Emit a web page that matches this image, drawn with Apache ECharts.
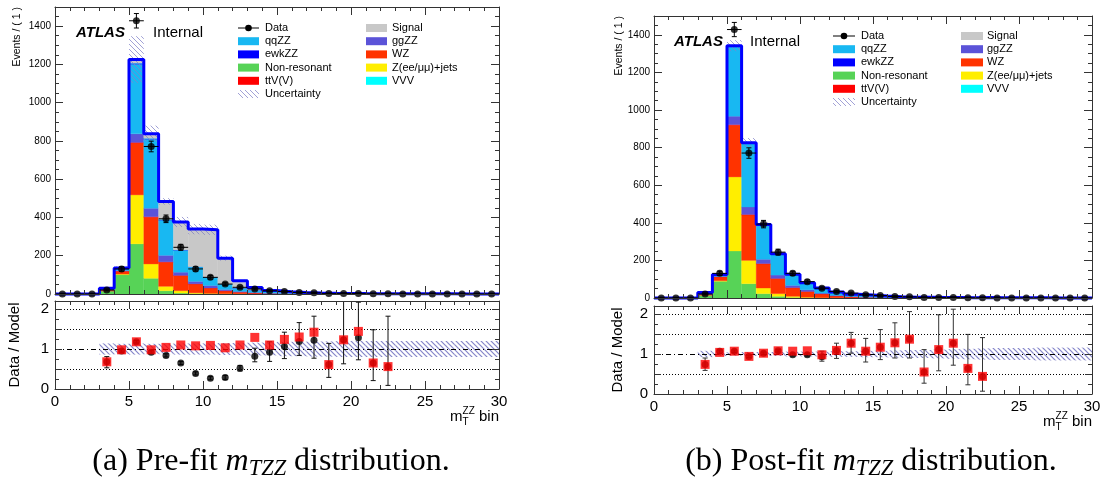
<!DOCTYPE html>
<html><head><meta charset="utf-8">
<script src="https://cdn.jsdelivr.net/npm/echarts@6/dist/echarts.min.js"></script>
<style>html,body{margin:0;padding:0;background:#fff}#c{width:1104px;height:485px}</style>
</head><body><div id="c"></div><script>
// ---------------- DATA ----------------
const binLow    = [0,1,2,3,4,5,6,7,8,9,10,11,12,13,14,15,16,17,18,19,20,21,22,23,24,25,26,27,28,29];
const binCenter = [0.5,1.5,2.5,3.5,4.5,5.5,6.5,7.5,8.5,9.5,10.5,11.5,12.5,13.5,14.5,15.5,16.5,17.5,18.5,19.5,20.5,21.5,22.5,23.5,24.5,25.5,26.5,27.5,28.5,29.5];
const compNames  = ['Non-resonant','Z(ee/\u03bc\u03bc)+jets','WZ','ttV(V)','ggZZ','qqZZ','ewkZZ','VVV','Signal'];
const compColors = ['#57d357','#ffee00','#ff3300','#ff0000','#5b53d8','#18b8f2','#0000ff','#00ffff','#c8c8c8'];

// Data (same in both panels)
const dataVals = [0,0,0,21,131,1428,771,393,244,131,87,52,35,26,17,13,8,6,2,3,3,1,1,0,0,0,0,0,0,0];
const dataErr  = [0,0,0,4.6,11.4,37.8,27.8,19.8,15.6,11.4,9.3,7.2,5.9,5.1,4.1,3.6,2.8,2.4,1.4,1.7,1.7,1,1,0,0,0,0,0,0,0];

// Pre-fit components
const nonresPre = [0,0,0,15,101,262,82,17,5,2,1,0.5,0,0,0,0,0,0,0,0,0,0,0,0,0,0,0,0,0,0];
const zjetsPre  = [0,0,0,0,3,256,75,23,12,4,2,1,0.5,0,0,0,0,0,0,0,0,0,0,0,0,0,0,0,0,0];
const wzPre     = [0,0,0,6,15,271,244,126,79,46,28,15,9,5,3,2,1,0.6,0.4,0.3,0.2,0.2,0.1,0.1,0,0,0,0,0,0];
const ttvPre    = [0,0,0,0,1,3,3,2,1,1,0.5,0.3,0.2,0.1,0,0,0,0,0,0,0,0,0,0,0,0,0,0,0,0];
const ggzzPre   = [0,0,0,1,3,45,44,34,17,13,13,7,4,3,2,1,0.6,0.4,0.3,0.2,0.1,0.1,0.1,0,0,0,0,0,0,0];
const qqzzPre   = [0.3,0.3,0.5,8,10,364,361,184,114,75,43,28,17,12,9,7,5,4,3,2.2,1.8,1.4,1.6,1.4,1.1,0.9,0.7,0.6,0.5,0.4];
const ewkPre    = [0,0,0,0,1,5,4,3,2,1,1,0.5,0.5,0.3,0.2,0.2,0.1,0.1,0.1,0.1,0,0,0,0,0,0,0,0,0,0];
const vvvPre    = [0,0,0,0,0.5,1,1,1,0.5,0.3,0.2,0.1,0,0,0,0,0,0,0,0,0,0,0,0,0,0,0,0,0,0];
const signalPre = [0,0,0,0,1,18,24,94,146,197,247,135,38,13,4,2,1,0.5,0.3,0.2,0.1,0,0,0,0,0,0,0,0,0];
const uncRelPre = [0,0,0,0.1,0.06,0.1,0.05,0.035,0.07,0.08,0.08,0.07,0.07,0.08,0.08,0.1,0.1,0.12,0.12,0.12,0.14,0.14,0.14,0.14,0.15,0.15,0.15,0.15,0.15,0.15];

// Post-fit components
const nonresPost = [0,0,0,14,89,250,76,23,9,3,1,0.5,0,0,0,0,0,0,0,0,0,0,0,0,0,0,0,0,0,0];
const zjetsPost  = [0,0,0,0,3,394,124,30,14,6,3,1,0.5,0,0,0,0,0,0,0,0,0,0,0,0,0,0,0,0,0];
const wzPost     = [0,0,0,6,20,275,242,128,80,45,30,20,10,6,4,2.5,1.5,1,0.5,0.3,0.2,0.2,0.1,0.1,0,0,0,0,0,0];
const ttvPost    = [0,0,0,0,1,3,2,2,1,1,0.5,0.3,0.2,0.1,0,0,0,0,0,0,0,0,0,0,0,0,0,0,0,0];
const ggzzPost   = [0,0,0,1,2,45,40,23,18,12,9,4,3,2,1.5,1,0.5,0.3,0.2,0.1,0,0,0,0,0,0,0,0,0,0];
const qqzzPost   = [0.3,0.3,0.5,8,9,369,338,181,111,58,37,27,18,11.5,10,7.3,4.4,3,2.9,2.2,2.1,1.4,2.1,1.5,1.2,1,0.8,0.6,0.5,0.4];
const ewkPost    = [0,0,0,0,1,5,3,3,2,1,1,0.5,0.3,0.3,0.2,0.1,0,0,0,0,0,0,0,0,0,0,0,0,0,0];
const vvvPost    = [0,0,0,0,0.5,1,1,0.5,0.3,0.2,0.1,0,0,0,0,0,0,0,0,0,0,0,0,0,0,0,0,0,0,0];
const signalPost = [0,0,0,0,0,0,0,0,0,0,0,0,0,0,0,0,0,0,0,0,0,0,0,0,0,0,0,0,0,0];
const uncRelPost = [0,0,0,0.05,0.04,0.022,0.03,0.03,0.03,0.04,0.04,0.05,0.05,0.05,0.06,0.06,0.07,0.08,0.08,0.09,0.1,0.1,0.11,0.12,0.12,0.12,0.13,0.13,0.13,0.13];

// Ratio panel values (null = not drawn)
const n = null;
const ratioRedPre   = [n,n,n,0.68,0.98,1.18,0.98,1.04,1.10,1.08,1.09,1.03,1.10,1.29,1.10,1.24,1.30,1.42,0.61,1.23,1.44,0.65,0.56,n,n,n,n,n,n,n];
const ratioBlackPre = [n,n,n,0.68,0.95,1.18,0.92,0.84,0.65,0.39,0.27,0.29,0.52,0.82,0.92,1.06,1.19,1.22,0.61,1.23,1.28,0.65,0.56,n,n,n,n,n,n,n];
const ratioLoPre    = [n,n,n,0.53,0.92,1.15,0.88,0.80,0.61,0.35,0.23,0.24,0.45,0.68,0.69,0.76,0.84,0.77,0.29,0.63,0.73,0.21,0.09,n,n,n,n,n,n,n];
const ratioHiPre    = [n,n,n,0.81,0.99,1.21,0.96,0.88,0.69,0.43,0.31,0.34,0.59,1.02,1.18,1.42,1.66,1.82,1.14,2.40,2.17,1.48,1.82,n,n,n,n,n,n,n];
const ratioBandPre  = [0,0,0,0.14,0.13,0.14,0.13,0.13,0.14,0.14,0.14,0.15,0.15,0.16,0.16,0.18,0.18,0.19,0.19,0.2,0.2,0.2,0.2,0.2,0.2,0.2,0.2,0.2,0.2,0.2];

const ratioRedPost   = [n,n,n,0.74,1.04,1.07,0.94,1.02,1.08,1.07,1.08,0.98,1.09,1.27,1.07,1.17,1.28,1.37,0.55,1.11,1.27,0.64,0.44,n,n,n,n,n,n,n];
const ratioBlackPost = [n,n,n,0.74,1.07,1.07,0.94,1.02,1.08,0.98,0.98,0.93,1.09,1.27,1.07,1.17,1.28,1.37,0.55,1.11,1.27,0.64,0.44,n,n,n,n,n,n,n];
const ratioLoPost    = [n,n,n,0.59,1.01,1.04,0.91,0.99,1.05,0.95,0.95,0.82,0.89,1.02,0.80,0.86,0.90,0.90,0.27,0.58,0.72,0.23,0.07,n,n,n,n,n,n,n];
const ratioHiPost    = [n,n,n,0.90,1.10,1.10,0.97,1.05,1.11,1.02,1.02,1.07,1.27,1.54,1.39,1.61,1.78,2.06,1.11,1.98,2.12,1.49,1.41,n,n,n,n,n,n,n];
const ratioBandPost  = [0,0,0,0.08,0.05,0.04,0.05,0.05,0.05,0.06,0.06,0.06,0.07,0.07,0.08,0.08,0.09,0.1,0.1,0.11,0.12,0.13,0.14,0.15,0.15,0.15,0.16,0.16,0.16,0.16];

const yTickValuesMain = 200;  // main y major step
const legendLeft  = ['Data','qqZZ','ewkZZ','Non-resonant','ttV(V)','Uncertainty'];
const legendRight = ['Signal','ggZZ','WZ','Z(ee/\u03bc\u03bc)+jets','VVV'];

// ---------------- HELPERS ----------------
function makeHatch(color, size, lw) {
  const c = document.createElement('canvas'); c.width = size; c.height = size;
  const g = c.getContext('2d'); g.strokeStyle = color; g.lineWidth = lw;
  g.beginPath();
  g.moveTo(0,0); g.lineTo(size,size);
  g.moveTo(-1,size-1); g.lineTo(1,size+1);
  g.moveTo(size-1,-1); g.lineTo(size+1,1);
  g.stroke(); return c;
}
const hatchFill = {image: makeHatch('rgba(130,130,200,0.75)', 5, 1), repeat: 'repeat'};
const hatchFillRatio = {image: makeHatch('rgba(120,120,195,0.9)', 5, 1.2), repeat: 'repeat'};

function rectRender(fill, isHatch) {
  return function (params, api) {
    const p0 = api.coord([api.value(0), api.value(3)]);
    const p1 = api.coord([api.value(1), api.value(2)]);
    const cs = params.coordSys;
    const shape = echarts.graphic.clipRectByRect(
      {x: p0[0], y: p0[1], width: p1[0]-p0[0], height: p1[1]-p0[1]},
      {x: cs.x, y: cs.y, width: cs.width, height: cs.height});
    if (!shape) return null;
    return {type: 'rect', shape: shape, style: {fill: fill, stroke: isHatch ? null : fill, lineWidth: 0.3}};
  };
}
function errRender(withX, color) {
  return function (params, api) {
    const xc = api.value(0), lo = api.value(1), hi = api.value(2), v = api.value(3);
    const pLo = api.coord([xc, lo]), pHi = api.coord([xc, hi]);
    const ch = [];
    const st = {stroke: color, lineWidth: 1};
    ch.push({type: 'line', shape: {x1: pLo[0], y1: pLo[1], x2: pHi[0], y2: pHi[1]}, style: st});
    ch.push({type: 'line', shape: {x1: pLo[0]-2.5, y1: pLo[1], x2: pLo[0]+2.5, y2: pLo[1]}, style: st});
    ch.push({type: 'line', shape: {x1: pHi[0]-2.5, y1: pHi[1], x2: pHi[0]+2.5, y2: pHi[1]}, style: st});
    if (withX) {
      const a = api.coord([xc-0.5, v]), b = api.coord([xc+0.5, v]);
      ch.push({type: 'line', shape: {x1: a[0], y1: a[1], x2: b[0], y2: b[1]}, style: st});
    }
    return {type: 'group', children: ch};
  };
}

const axCol = '#333';
function xAx(gridIndex, pos, labels) {
  return {type: 'value', gridIndex, position: pos, min: 0, max: 30, interval: 5, z: 10,
    axisLine: {show: true, onZero: false, lineStyle: {color: axCol, width: 1}},
    axisTick: {show: true, inside: true, length: 8, lineStyle: {color: axCol}},
    minorTick: {show: true, splitNumber: 5, length: 4, lineStyle: {color: axCol}},
    splitLine: {show: false},
    axisLabel: {show: labels, fontSize: 15, fontFamily: 'Liberation Sans', color: '#000', margin: 5}};
}
function yMain(gridIndex, pos) {
  return {type: 'value', gridIndex, position: pos, min: 0, max: 1500, interval: yTickValuesMain, z: 10,
    axisLine: {show: true, onZero: false, lineStyle: {color: axCol, width: 1}},
    axisTick: {show: true, inside: true, length: 8, lineStyle: {color: axCol}},
    minorTick: {show: true, splitNumber: 4, length: 4, lineStyle: {color: axCol}},
    splitLine: {show: false},
    axisLabel: {show: pos === 'left', fontSize: 10, fontFamily: 'Liberation Sans', color: '#000', margin: 4,
      formatter: v => (v > 1400 ? '' : String(v))}};
}
function yRatio(gridIndex, pos) {
  return {type: 'value', gridIndex, position: pos, min: 0, max: 2.2, interval: 0.5, z: 10,
    axisLine: {show: true, onZero: false, lineStyle: {color: axCol, width: 1}},
    axisTick: {show: true, inside: true, length: 7, lineStyle: {color: axCol}},
    minorTick: {show: true, splitNumber: 2, length: 4, lineStyle: {color: axCol}},
    splitLine: {show: false},
    axisLabel: {show: pos === 'left', fontSize: 15, fontFamily: 'Liberation Sans', color: '#000', margin: 6,
      formatter: v => (v === 0 || v === 1 || v === 2 ? String(v) : '')}};
}

function buildPanel(base, comps, uncRel, rRed, rBlack, rLo, rHi, rBand, errColor) {
  const series = [];
  const mx = base, my = base, rx = base + 2, ry = base + 2;
  const cum = binLow.map(() => 0);
  comps.forEach((arr, ci) => {
    const d = [];
    arr.forEach((v, i) => { if (v > 0) { d.push([binLow[i], binLow[i]+1, cum[i], cum[i]+v]); cum[i] += v; } });
    series.push({name: compNames[ci], type: 'custom', coordinateSystem: 'cartesian2d', xAxisIndex: mx, yAxisIndex: my,
      z: 2, renderItem: rectRender(compColors[ci], false), encode: {x: [0,1], y: [2,3]}, data: d, silent: true});
  });
  const total = cum;
  const ud = [];
  total.forEach((t, i) => { if (t > 0 && uncRel[i] > 0) ud.push([binLow[i], binLow[i]+1, t*(1-uncRel[i]), t*(1+uncRel[i])]); });
  series.push({name: 'Uncertainty', type: 'custom', coordinateSystem: 'cartesian2d', xAxisIndex: mx, yAxisIndex: my,
    z: 3, renderItem: rectRender(hatchFill, true), encode: {x: [0,1], y: [2,3]}, data: ud, silent: true});
  const od = binLow.map((x, i) => [x, total[i]]);
  od.push([30, total[29]]);
  series.push({name: 'Total', type: 'line', step: 'end', xAxisIndex: mx, yAxisIndex: my, z: 4, clip: false,
    symbol: 'none', lineStyle: {color: '#0000ff', width: 3}, data: od, silent: true});
  series.push({name: 'Data err', type: 'custom', coordinateSystem: 'cartesian2d', xAxisIndex: mx, yAxisIndex: my, z: 5,
    renderItem: errRender(true, '#000'), encode: {x: 0, y: [1,2]},
    data: binCenter.map((x, i) => [x, Math.max(0, dataVals[i]-dataErr[i]), dataVals[i]+dataErr[i], dataVals[i]]), silent: true});
  series.push({name: 'Data', type: 'scatter', xAxisIndex: mx, yAxisIndex: my, z: 6, clip: false,
    symbol: 'circle', symbolSize: 7, itemStyle: {color: '#000'}, data: binCenter.map((x, i) => [x, dataVals[i]]), silent: true});
  const bd = [];
  rBand.forEach((u, i) => { if (u > 0) bd.push([binLow[i], binLow[i]+1, 1-u, 1+u]); });
  series.push({name: 'Ratio band', type: 'custom', coordinateSystem: 'cartesian2d', xAxisIndex: rx, yAxisIndex: ry, z: 2,
    renderItem: rectRender(hatchFillRatio, true), encode: {x: [0,1], y: [2,3]}, data: bd, silent: true});
  const ed = [];
  rLo.forEach((lo, i) => { if (lo !== null) ed.push([binCenter[i], lo, rHi[i], rBlack[i]]); });
  series.push({name: 'Ratio err', type: 'custom', coordinateSystem: 'cartesian2d', xAxisIndex: rx, yAxisIndex: ry, z: 4, clip: true,
    renderItem: errRender(false, errColor), encode: {x: 0, y: [1,2]}, data: ed, silent: true});
  const bk = [], rd = [];
  rBlack.forEach((v, i) => { if (v !== null) bk.push([binCenter[i], v]); });
  rRed.forEach((v, i) => { if (v !== null) rd.push([binCenter[i], v]); });
  series.push({name: 'Data / Model (S+B)', type: 'scatter', xAxisIndex: rx, yAxisIndex: ry, z: 5, symbol: 'circle', symbolSize: 7,
    itemStyle: {color: '#000'}, data: bk, silent: true,
    markLine: {silent: true, symbol: 'none', label: {show: false}, animation: false,
      lineStyle: {color: '#000', width: 1},
      data: [
        {yAxis: 0.5, lineStyle: {type: [1,2], color: '#000', width: 1}},
        {yAxis: 1.5, lineStyle: {type: [1,2], color: '#000', width: 1}},
        {yAxis: 2,   lineStyle: {type: [1,2], color: '#000', width: 1}},
        {yAxis: 1,   lineStyle: {type: [5,3,1,3], color: '#000', width: 1}}
      ]}});
  series.push({name: 'Data / Model (B)', type: 'scatter', xAxisIndex: rx, yAxisIndex: ry, z: 6, symbol: 'rect', symbolSize: 9,
    itemStyle: {color: '#ff0000'}, data: rd, silent: true});
  return series;
}

// text helpers
const mctx = document.createElement('canvas').getContext('2d');
function tw(t, font) { mctx.font = font; return mctx.measureText(t).width; }
function txt(x, y, t, font, align, extra) {
  return Object.assign({type: 'text', x: x, y: y, silent: true,
    style: {text: t, font: font, fill: '#000', textAlign: align || 'left', textVerticalAlign: 'middle', verticalAlign: 'middle'}}, extra || {});
}
function compound(parts, ax, y, align) {
  const w = parts.map(p => (p.adv === false ? 0 : tw(p.t, p.font)));
  const total = w.reduce((a, b) => a + b, 0);
  let cx = align === 'right' ? ax - total : (align === 'center' ? ax - total / 2 : ax);
  const els = [];
  parts.forEach((p, i) => { els.push(txt(cx, y + (p.dy || 0), p.t, p.font, 'left')); cx += w[i]; });
  return els;
}
const SANS = '"Liberation Sans"';
const SERIF = '"Liberation Serif"';
const legendColor = {'qqZZ': compColors[5], 'ewkZZ': compColors[6], 'Non-resonant': compColors[0], 'ttV(V)': compColors[3],
  'Signal': compColors[8], 'ggZZ': compColors[4], 'WZ': compColors[2], 'Z(ee/\u03bc\u03bc)+jets': compColors[1], 'VVV': compColors[7]};

function legendEls(boxL, textL, boxR, textR, y0, step, bw) {
  const els = [];
  const item = (name, bx, tx, y) => {
    if (name === 'Data') {
      els.push({type: 'line', silent: true, shape: {x1: bx, y1: y, x2: bx + bw, y2: y}, style: {stroke: '#000', lineWidth: 1}});
      els.push({type: 'circle', silent: true, shape: {cx: bx + bw / 2, cy: y, r: 3.3}, style: {fill: '#000'}});
    } else if (name === 'Uncertainty') {
      els.push({type: 'rect', silent: true, shape: {x: bx, y: y - 4, width: bw, height: 8}, style: {fill: hatchFill}});
    } else {
      els.push({type: 'rect', silent: true, shape: {x: bx, y: y - 4, width: bw, height: 8}, style: {fill: legendColor[name]}});
    }
    els.push(txt(tx, y, name, '11px ' + SANS, 'left'));
  };
  legendLeft.forEach((nm, i) => item(nm, boxL, textL, y0 + i * step));
  legendRight.forEach((nm, i) => item(nm, boxR, textR, y0 + i * step));
  return els;
}

function captionEls(label, cx, y, targetW) {
  const mk = fs => [
    {t: label, font: fs + 'px ' + SERIF},
    {t: 'm', font: 'italic ' + fs + 'px ' + SERIF},
    {t: 'TZZ', font: 'italic ' + (fs * 0.7).toFixed(1) + 'px ' + SERIF, dy: fs * 0.22},
    {t: ' distribution.', font: fs + 'px ' + SERIF}
  ];
  const p0 = mk(26);
  const w0 = p0.reduce((a, p) => a + tw(p.t, p.font), 0);
  const fs = Math.min(32, 26 * targetW / w0);
  return compound(mk(fs), cx, y, 'center');
}

function axisTitleEls(ylabX, ylabTop, drX, drY, mRight, mY) {
  let els = [];
  els.push(txt(ylabX, ylabTop, 'Events / ( 1 )', '10.5px ' + SANS, 'right', {rotation: Math.PI / 2}));
  els.push(txt(drX, drY, 'Data / Model', '15px ' + SANS, 'center', {rotation: Math.PI / 2}));
  els = els.concat(compound([
    {t: 'm', font: '15px ' + SANS},
    {t: 'T', font: '10px ' + SANS, dy: 5, adv: false},
    {t: 'ZZ', font: '10px ' + SANS, dy: -6},
    {t: ' bin', font: '15px ' + SANS}
  ], mRight, mY, 'right'));
  return els;
}

// ---------------- OPTION ----------------
const preComps  = [nonresPre, zjetsPre, wzPre, ttvPre, ggzzPre, qqzzPre, ewkPre, vvvPre, signalPre];
const postComps = [nonresPost, zjetsPost, wzPost, ttvPost, ggzzPost, qqzzPost, ewkPost, vvvPost, signalPost];

let graphics = [];
graphics = graphics.concat([
  txt(76, 33, 'ATLAS', 'bold italic 15px ' + SANS, 'left'),
  txt(153, 33, 'Internal', '15px ' + SANS, 'left'),
  txt(674, 41.5, 'ATLAS', 'bold italic 15px ' + SANS, 'left'),
  txt(750, 41.5, 'Internal', '15px ' + SANS, 'left')
]);
graphics = graphics.concat(legendEls(238, 265, 366, 392, 28, 13.2, 21));
graphics = graphics.concat(legendEls(833, 861, 961, 987, 36, 13.2, 22));
graphics = graphics.concat(axisTitleEls(17, 7, 15, 345, 499, 417));
graphics = graphics.concat(axisTitleEls(619, 16, 618, 350, 1092, 422));
graphics = graphics.concat(captionEls('(a) Pre-fit ', 271, 462, 377));
graphics = graphics.concat(captionEls('(b) Post-fit ', 871, 462, 393));

const option = {
  animation: false,
  backgroundColor: '#fff',
  textStyle: {fontFamily: 'Liberation Sans'},
  grid: [
    {left: 55, top: 7, width: 444, height: 287},
    {left: 55, top: 301, width: 444, height: 88},
    {left: 654, top: 16, width: 438, height: 282},
    {left: 654, top: 306, width: 438, height: 88}
  ],
  xAxis: [
    xAx(0, 'bottom', false), xAx(0, 'top', false),
    xAx(1, 'bottom', true), xAx(1, 'top', false),
    xAx(2, 'bottom', false), xAx(2, 'top', false),
    xAx(3, 'bottom', true), xAx(3, 'top', false)
  ],
  yAxis: [
    yMain(0, 'left'), yMain(0, 'right'),
    yRatio(1, 'left'), yRatio(1, 'right'),
    yMain(2, 'left'), yMain(2, 'right'),
    yRatio(3, 'left'), yRatio(3, 'right')
  ],
  series: [].concat(
    buildPanel(0, preComps, uncRelPre, ratioRedPre, ratioBlackPre, ratioLoPre, ratioHiPre, ratioBandPre, '#111'),
    buildPanel(4, postComps, uncRelPost, ratioRedPost, ratioBlackPost, ratioLoPost, ratioHiPost, ratioBandPost, '#333')
  ),
  graphic: {elements: graphics}
};
const chart = echarts.init(document.getElementById('c'), null, {renderer: 'canvas'});
chart.setOption(option);
</script></body></html>
